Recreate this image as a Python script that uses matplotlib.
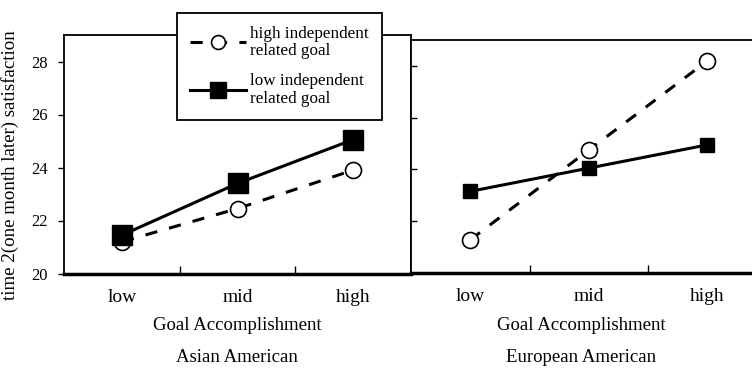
import matplotlib
matplotlib.use("Agg")
import matplotlib.pyplot as plt
from matplotlib.lines import Line2D

plt.rcParams['font.family'] = ['Liberation Serif', 'DejaVu Serif']

levels = ['low', 'mid', 'high']
x_pos = [0.5, 1.5, 2.5]

# Asian American panel
asian_high_ind = [21.2, 22.45, 23.9]
asian_low_ind = [21.45, 23.4, 25.05]

# European American panel
euro_high_ind = [21.27, 24.75, 28.2]
euro_low_ind = [23.15, 24.05, 24.95]

y_ticks = [20, 22, 24, 26, 28]
label_high = 'high independent\nrelated goal'
label_low = 'low independent\nrelated goal'

W, H = 752, 371
fig = plt.figure(figsize=(W / 100, H / 100), dpi=100)

ax1 = fig.add_axes([64.3 / W, 1 - 273.5 / H, 346.4 / W, 238.5 / H])
ax2 = fig.add_axes([411.0 / W, 1 - 272.7 / H, 355.5 / W, 232.4 / H])

dash = (0, (4, 4))


def style_axis(ax, show_labels):
    ax.set_xlim(0, 3)
    ax.set_ylim(20, 29)
    ax.set_xticks([1, 2])
    ax.set_xticklabels([])
    ax.set_xticks(x_pos, minor=True)
    ax.set_xticklabels(levels, minor=True, fontsize=14)
    ax.tick_params(axis='x', which='major', direction='in', length=6, width=1)
    ax.tick_params(axis='x', which='minor', length=0, pad=11)
    ax.set_yticks(y_ticks)
    if show_labels:
        ax.tick_params(axis='y', direction='out', length=4, width=1, labelsize=12, pad=8)
    else:
        ax.tick_params(axis='y', direction='in', length=4, width=1, labelleft=False)
    for side in ['left', 'top', 'right']:
        ax.spines[side].set_linewidth(1.3)
    ax.spines['bottom'].set_linewidth(2.5)


ax1.plot(x_pos, asian_high_ind, color='black', lw=2.2, linestyle=dash,
         marker='o', markersize=11.5, markerfacecolor='white', markeredgewidth=1.2)
ax1.plot(x_pos, asian_low_ind, color='black', lw=2.2,
         marker='s', markersize=14, markerfacecolor='black')
style_axis(ax1, True)
ax1.set_ylabel('time 2(one month later) satisfaction', fontsize=13.6)
ax1.yaxis.set_label_coords(-0.13, 0.455)

ax2.plot(x_pos, euro_high_ind, color='black', lw=2.2, linestyle=dash,
         marker='o', markersize=11.5, markerfacecolor='white', markeredgewidth=1.2)
ax2.plot(x_pos, euro_low_ind, color='black', lw=2.2,
         marker='s', markersize=10, markerfacecolor='black')
style_axis(ax2, False)

# axis titles centred under the visible part of each panel
fig.text(237 / W, 1 - 325 / H, 'Goal Accomplishment', ha='center', va='center', fontsize=13.5)
fig.text(237 / W, 1 - 357 / H, 'Asian American', ha='center', va='center', fontsize=13.5)
fig.text(581 / W, 1 - 326 / H, 'Goal Accomplishment', ha='center', va='center', fontsize=13.5)
fig.text(581 / W, 1 - 358 / H, 'European American', ha='center', va='center', fontsize=13.5)

handles = [
    Line2D([], [], color='black', lw=2.2, linestyle=dash, marker='o', markersize=10,
           markerfacecolor='white', markeredgewidth=1.2),
    Line2D([], [], color='black', lw=2.2, marker='s', markersize=11.5, markerfacecolor='black'),
]
leg = fig.legend(handles, [label_high, label_low], loc='upper left',
                 bbox_to_anchor=(176.7 / W, 1 - 12.7 / H), fontsize=12.3,
                 frameon=True, fancybox=False, framealpha=1, edgecolor='black',
                 handlelength=3.3, handletextpad=0.25, labelspacing=0.8,
                 borderpad=0.75, borderaxespad=0)
for t in leg.get_texts():
    t.set_linespacing(1.15)
leg.get_frame().set_linewidth(1.3)
leg.set_zorder(10)

fig.savefig('out.png', dpi=100)
